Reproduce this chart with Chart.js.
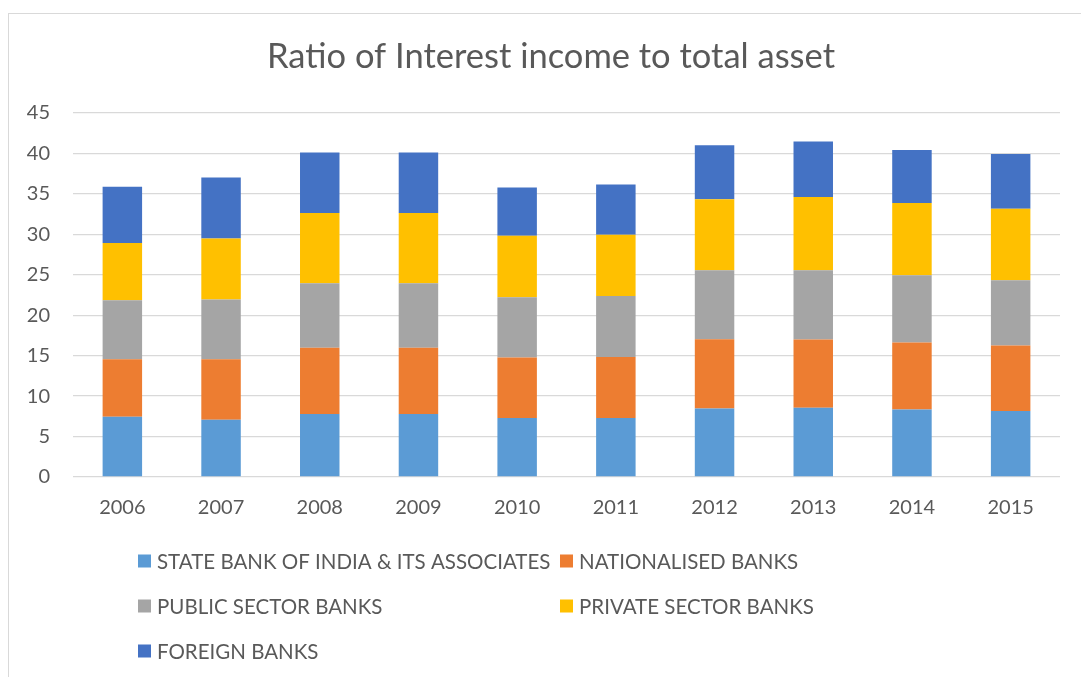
<!DOCTYPE html>
<html>
<head>
<meta charset="utf-8">
<title>Ratio of Interest income to total asset</title>
<script src="https://cdn.jsdelivr.net/npm/chart.js@4/dist/chart.umd.min.js"></script>
<style>
  html, body { margin: 0; padding: 0; background: #fff; overflow: hidden; }
  #wrap { position: relative; width: 1081px; height: 677px; }
  #frame {
    position: absolute; left: 8px; top: 13px; width: 1090px; height: 680px;
    border: 1px solid #d9d9d9; pointer-events: none;
  }
</style>
</head>
<body>
<div id="wrap">
  <canvas id="chart"></canvas>
  <div id="frame"></div>
</div>
<script>
const years = ["2006", "2007", "2008", "2009", "2010", "2011", "2012", "2013", "2014", "2015"];

const sbiGroup     = [7.45, 7.08, 7.78, 7.78, 7.28, 7.28, 8.48, 8.56, 8.35, 8.15];
const nationalised = [7.12, 7.49, 8.19, 8.19, 7.49, 7.57, 8.56, 8.44, 8.27, 8.11];
const publicSector = [7.28, 7.36, 7.98, 7.98, 7.45, 7.53, 8.52, 8.56, 8.31, 8.06];
const privateBanks = [7.08, 7.57, 8.68, 8.68, 7.61, 7.57, 8.77, 9.05, 8.93, 8.85];
const foreignBanks = [6.95, 7.54, 7.49, 7.49, 5.97, 6.21, 6.67, 6.87, 6.58, 6.75];

const chartTitle = "Ratio of Interest income to total asset";

const FONT = "Lato, 'Open Sans', sans-serif";
const TEXT = "#595959";

// title over the chart box plus a two-column grid legend under the x axis
const frameText = {
  id: "frameText",
  afterDraw(chart) {
    const ctx = chart.ctx;
    ctx.save();
    ctx.fillStyle = TEXT;
    ctx.textBaseline = "middle";
    ctx.textAlign = "center";
    ctx.font = "34.5px " + FONT;
    ctx.fillText(chartTitle, 551, 57);

    const startX = 138, colW = 422, startY = 561, rowH = 45, box = 13;
    ctx.font = "20.5px " + FONT;
    ctx.textAlign = "left";
    chart.data.datasets.forEach((ds, i) => {
      const x = startX + (i % 2) * colW;
      const y = startY + Math.floor(i / 2) * rowH;
      ctx.fillStyle = ds.backgroundColor;
      ctx.fillRect(x, y - box / 2, box, box);
      ctx.fillStyle = TEXT;
      ctx.fillText(ds.label, x + 19, y + 1);
    });
    ctx.restore();
  },
};

const ctx = document.getElementById("chart").getContext("2d");

new Chart(ctx, {
  type: "bar",
  data: {
    labels: years,
    datasets: [
      { label: "STATE BANK OF INDIA & ITS ASSOCIATES", data: sbiGroup, backgroundColor: "#5B9BD5" },
      { label: "NATIONALISED BANKS", data: nationalised, backgroundColor: "#ED7D31" },
      { label: "PUBLIC SECTOR BANKS", data: publicSector, backgroundColor: "#A5A5A5" },
      { label: "PRIVATE SECTOR BANKS", data: privateBanks, backgroundColor: "#FFC000" },
      { label: "FOREIGN BANKS", data: foreignBanks, backgroundColor: "#4472C4" },
    ],
  },
  options: {
    responsive: true,
    maintainAspectRatio: false,
    animation: false,
    barPercentage: 0.4,
    categoryPercentage: 1.0,
    layout: { padding: { top: 113, right: 21, bottom: 0, left: 0 } },
    plugins: {
      legend: { display: false },
      tooltip: { enabled: false },
      title: { display: false },
    },
    scales: {
      x: {
        stacked: true,
        grid: { display: false },
        border: { display: false },
        ticks: { color: TEXT, font: { family: FONT, size: 20 }, padding: 11 },
        afterFit(scale) { scale.height = 200; },
      },
      y: {
        stacked: true,
        min: 0,
        max: 45,
        grid: { color: "#d9d9d9", lineWidth: 1.3, drawTicks: false },
        border: { display: false },
        ticks: { stepSize: 5, color: TEXT, font: { family: FONT, size: 20 }, padding: 23 },
        afterFit(scale) { scale.width = 73; },
      },
    },
  },
  plugins: [frameText],
});
</script>
</body>
</html>
